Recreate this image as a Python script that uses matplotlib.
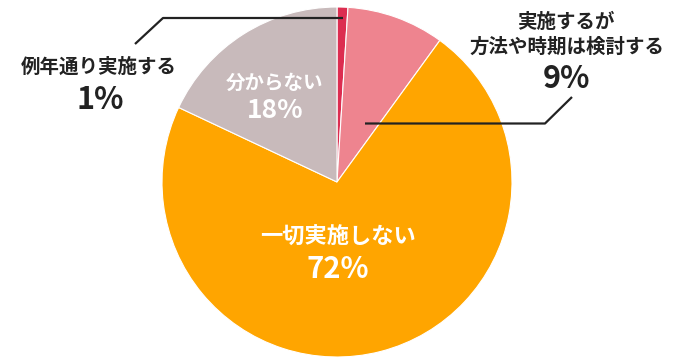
import matplotlib.pyplot as plt

plt.rcParams['font.family'] = ['Noto Sans CJK JP', 'DejaVu Sans']

# data
labels = ['例年通り実施する', '実施するが\n方法や時期は検討する', '一切実施しない', '分からない']
shares = [1, 9, 72, 18]
colors = ['#DC2D50', '#EE848F', '#FFA500', '#C8BABB']

W, H = 680, 363
fig = plt.figure(figsize=(W / 100, H / 100), dpi=100)
ax = fig.add_axes([0, 0, 1, 1])

ax.pie(shares, colors=colors, startangle=90, counterclock=False,
       center=(337, H - 182), radius=175,
       wedgeprops=dict(edgecolor='white', linewidth=0.8))

# pie() resets the view, so fix the pixel-like coordinate frame afterwards
ax.set_xlim(0, W)
ax.set_ylim(0, H)
ax.set_aspect('equal')
ax.axis('off')

dark = '#222222'

# helper: pixel coords (top-left origin) -> data
def P(x, y):
    return x, H - y

# outside labels
ax.text(*P(99, 67), labels[0], ha='center', va='center', fontsize=14,
        fontweight='bold', color=dark)
ax.text(*P(100, 100), f'{shares[0]}%', ha='center', va='center', fontsize=22,
        fontweight='bold', color=dark)
l1, l2 = labels[1].split('\n')
ax.text(*P(566, 22), l1, ha='center', va='center', fontsize=14,
        fontweight='bold', color=dark)
ax.text(*P(567, 47), l2, ha='center', va='center', fontsize=14,
        fontweight='bold', color=dark)
ax.text(*P(566, 79), f'{shares[1]}%', ha='center', va='center', fontsize=22,
        fontweight='bold', color=dark)

# leader lines
xs, ys = zip(P(343, 18), P(163, 18), P(135, 44))
ax.plot(xs, ys, color=dark, lw=1.6, solid_capstyle='butt')
xs, ys = zip(P(365, 123.5), P(545, 123.5), P(572, 97))
ax.plot(xs, ys, color=dark, lw=1.6, solid_capstyle='butt')

# inside labels
ax.text(*P(275, 83), labels[3], ha='center', va='center', fontsize=14,
        fontweight='bold', color='white')
ax.text(*P(275, 110), f'{shares[3]}%', ha='center', va='center', fontsize=19,
        fontweight='bold', color='white')
ax.text(*P(338, 237), labels[2], ha='center', va='center', fontsize=16,
        fontweight='bold', color='white')
ax.text(*P(338, 269), f'{shares[2]}%', ha='center', va='center', fontsize=21,
        fontweight='bold', color='white')

fig.savefig('out.png', dpi=100, facecolor='white')
